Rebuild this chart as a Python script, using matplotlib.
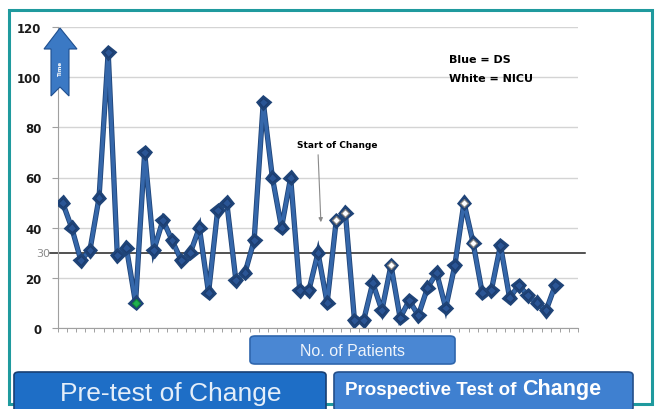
import matplotlib
matplotlib.use("Agg")
from matplotlib import pyplot as plt
from matplotlib.patches import FancyBboxPatch, Polygon, Rectangle
import matplotlib.patheffects as pe
import numpy as np

# time per patient
times = [50, 40, 27, 31, 52, 110, 29, 32, 10, 70,
         31, 43, 35, 27, 30, 40, 14, 47, 50, 19,
         22, 35, 90, 60, 40, 60, 15, 15, 30, 10,
         43, 46, 3, 3, 18, 7, 25, 4, 11, 5,
         16, 22, 8, 25, 50, 34, 14, 15, 33, 12,
         17, 13, 10, 7, 17]
nicu_idx = [30, 31, 36, 44, 45]   # white markers
green_idx = [8]
target = 30
yticks = [0, 20, 40, 60, 80, 100, 120]
n_categories = 57

W, H = 658, 410
fig = plt.figure(figsize=(W / 100, H / 100), dpi=100)
fig.patch.set_facecolor("white")


def fx(x):
    return x / W


def fy(y):
    return 1 - y / H


ax = fig.add_axes([fx(58), fy(329), fx(578) - fx(58), fy(28) - fy(329)])
ax.set_facecolor("white")

x = np.arange(len(times))
line, = ax.plot(x, times, color="#3567aa", lw=2.6, solid_joinstyle="miter", zorder=3,
                marker="D", markersize=4.5, markerfacecolor="#2a5595",
                markeredgecolor="#1c3d70", markeredgewidth=0.8)
line.set_path_effects([pe.Stroke(linewidth=3.8, foreground="#1f4478"), pe.Normal()])

ax.plot(x[nicu_idx], np.array(times)[nicu_idx], "D", markersize=4.5,
        markerfacecolor="white", markeredgecolor="#7f7f7f", markeredgewidth=0.9, zorder=4)
ax.plot(x[green_idx], np.array(times)[green_idx], "D", markersize=4.5,
        markerfacecolor="#20b050", markeredgecolor="#138a3a", markeredgewidth=0.8, zorder=4)

ax.set_xlim(-0.5, n_categories - 0.5)
ax.set_ylim(0, 120)
ax.set_yticks(yticks)
ax.set_yticklabels([str(v) for v in yticks], fontsize=8.5, fontweight="bold", color="#1a1a1a")
ax.set_xticks(np.arange(n_categories + 1) - 0.5)
ax.set_xticklabels([])
ax.tick_params(axis="x", length=3, width=0.7, color="#a0a0a0", direction="out")
ax.tick_params(axis="y", length=4, color="#a0a0a0", pad=8)
ax.grid(axis="y", color="#d4d4d4", lw=1)
ax.set_axisbelow(True)
for s in ["top", "right"]:
    ax.spines[s].set_visible(False)
for s in ["left", "bottom"]:
    ax.spines[s].set_color("#a0a0a0")

# target line at 30
ax.axhline(target, xmin=-8 / 520, xmax=(585 - 58) / 520, color="#222222", lw=1.1,
           clip_on=False, zorder=2)
ax.text(-8 / 520, target, "30", transform=ax.get_yaxis_transform(), ha="right",
        va="center", fontsize=8, color="#8a8a8a")

# outer teal frame
fig.add_artist(Rectangle((fx(9), fy(405)), fx(652) - fx(9), fy(11) - fy(405),
                         transform=fig.transFigure, fill=False,
                         edgecolor="#1f9a9e", lw=2.2))

# up arrow "Time"
arrow_pts = [(60, 29), (77, 50), (69, 50), (69, 97), (60, 88), (51, 97), (51, 50), (44, 50)]
fig.add_artist(Polygon([(fx(a), fy(b)) for a, b in arrow_pts], closed=True,
                       transform=fig.transFigure, facecolor="#3b79c4",
                       edgecolor="#1f4f8f", lw=0.8))
fig.text(fx(60), fy(68), "Time", rotation=90, ha="center", va="center",
         fontsize=4, color="white", fontweight="bold")

# legend note
fig.text(fx(449), fy(60), "Blue = DS", fontsize=8, fontweight="bold", va="center")
fig.text(fx(449), fy(79), "White = NICU", fontsize=8, fontweight="bold", va="center")

# start of change annotation
fig.text(fx(297), fy(145), "Start of Change", fontsize=6.5, fontweight="bold", va="center")
ax.annotate("", xy=(fx(321), fy(226)), xycoords="figure fraction",
            xytext=(fx(318), fy(153)), textcoords="figure fraction",
            arrowprops=dict(arrowstyle="-|>", color="#8a8a8a", lw=0.8, mutation_scale=6))


def box(x0, y0, x1, y1, face, edge):
    fig.add_artist(FancyBboxPatch((fx(x0), fy(y1)), fx(x1) - fx(x0), fy(y0) - fy(y1),
                                  boxstyle="round,pad=0,rounding_size=0.008",
                                  transform=fig.transFigure, facecolor=face,
                                  edgecolor=edge, lw=1.2))


box(250, 337, 455, 365, "#4a87d3", "#2f66ad")
fig.text(fx(352), fy(352), "No. of Patients", ha="center", va="center",
         fontsize=11.5, color="#eef4fb", family="Liberation Sans")

box(14, 373, 326, 416, "#1e6ec6", "#173f73")
fig.text(fx(171), fy(394), "Pre-test of Change", ha="center", va="center",
         fontsize=19, color="#e4eef9", family="Liberation Sans")

box(334, 373, 633, 412, "#3f80d0", "#244f8a")
t1 = fig.text(fx(345), fy(391), "Prospective Test of ", ha="left", va="center",
              fontsize=13.5, color="white", fontweight="bold", family="Liberation Sans")
r = fig.canvas.get_renderer()
bb = t1.get_window_extent(renderer=r)
fig.text(bb.x1 / W, fy(390), "Change", ha="left", va="center",
         fontsize=15.5, color="white", fontweight="bold", family="Liberation Sans")

fig.savefig("out.png", dpi=100)
